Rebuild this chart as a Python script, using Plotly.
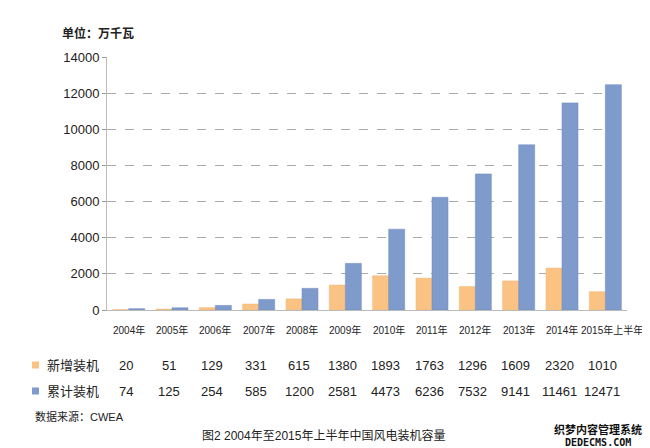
import plotly.graph_objects as go

years = ["2004年", "2005年", "2006年", "2007年", "2008年", "2009年", "2010年",
         "2011年", "2012年", "2013年", "2014年", "2015年上半年"]
new_install = [20, 51, 129, 331, 615, 1380, 1893, 1763, 1296, 1609, 2320, 1010]
cum_install = [74, 125, 254, 585, 1200, 2581, 4473, 6236, 7532, 9141, 11461, 12471]
series_names = ["新增装机", "累计装机"]
y_ticks = [0, 2000, 4000, 6000, 8000, 10000, 12000, 14000]

ORANGE = "#FBC383"
BLUE = "#7F9BCC"
FONT = "Liberation Sans, Noto Sans CJK SC, sans-serif"

fig = go.Figure()
fig.add_trace(go.Bar(x=years, y=new_install, name=series_names[0],
                     marker=dict(color=ORANGE, line=dict(color="#EFB472", width=0.5))))
fig.add_trace(go.Bar(x=years, y=cum_install, name=series_names[1],
                     marker=dict(color=BLUE, line=dict(color="#6F8BBC", width=0.5))))

W, H = 650, 448
L, R, T, B = 99, 31, 49, 146
pw, ph = W - L - R, H - T - B

def px_x(x):
    return (x - L) / pw

def px_y(y):
    return (H - B - y) / ph

annotations = []
# category labels under the axis
last = len(years) - 1
for i, cat in enumerate(years):
    annotations.append(dict(x=cat, xref="x", y=px_y(322), yref="paper",
                            text=cat, showarrow=False,
                            xshift=(40 if i == last else 0),
                            font=dict(size=10, color="#222", family=FONT),
                            xanchor=("right" if i == last else "center"),
                            yanchor="middle"))
rows = [(new_install, 357), (cum_install, 383)]
for vals, ypix in rows:
    for cat, v in zip(years, vals):
        annotations.append(dict(x=cat, xref="x", y=px_y(ypix), yref="paper",
                                text=str(v), showarrow=False, xshift=-3,
                                font=dict(size=13, color="#222", family=FONT),
                                xanchor="center", yanchor="middle"))
for name, ypix in zip(series_names, [357, 383]):
    annotations.append(dict(x=px_x(37), xref="paper", y=px_y(ypix), yref="paper",
                            text=name, showarrow=False,
                            font=dict(size=13, color="#222", family=FONT),
                            xanchor="left", yanchor="middle"))

annotations += [
    dict(x=px_x(52), xref="paper", y=px_y(25), yref="paper", text="<b>单位：万千瓦</b>",
         showarrow=False, xanchor="left", yanchor="middle",
         font=dict(size=12, color="#222", family=FONT)),
    dict(x=px_x(25), xref="paper", y=px_y(408), yref="paper", text="数据来源：CWEA",
         showarrow=False, xanchor="left", yanchor="middle",
         font=dict(size=11, color="#222", family=FONT)),
    dict(x=px_x(315), xref="paper", y=px_y(427), yref="paper",
         text="图2 2004年至2015年上半年中国风电装机容量",
         showarrow=False, xanchor="center", yanchor="middle",
         font=dict(size=12, color="#222", family=FONT)),
    dict(x=px_x(590), xref="paper", y=px_y(421), yref="paper",
         text="<b>织梦内容管理系统</b>",
         showarrow=False, xanchor="center", yanchor="middle",
         font=dict(size=11, color="#111", family=FONT)),
    dict(x=px_x(590), xref="paper", y=px_y(434), yref="paper",
         text="<b>DEDECMS.COM</b>",
         showarrow=False, xanchor="center", yanchor="middle",
         font=dict(size=10, color="#111", family="DejaVu Sans Mono")),
]

shapes = []
for color, ypix in [(ORANGE, 357), (BLUE, 383)]:
    shapes.append(dict(type="rect", xref="paper", yref="paper",
                       x0=px_x(24), x1=px_x(31), y0=px_y(ypix - 3.5), y1=px_y(ypix + 3.5),
                       fillcolor=color, line=dict(width=0)))

fig.update_layout(
    width=W, height=H,
    margin=dict(l=L, r=R, t=T, b=B, autoexpand=False),
    paper_bgcolor="white", plot_bgcolor="white",
    barmode="group", bargap=0.26, bargroupgap=0.0,
    showlegend=False,
    font=dict(family=FONT, color="#222"),
    annotations=annotations, shapes=shapes,
)
fig.update_xaxes(
    range=[-0.5, len(years) - 0.5], autorange=False,
    showticklabels=False,
    showline=True, linecolor="#BBBBBB", linewidth=1,
    showgrid=False, ticks="",
)
fig.update_yaxes(
    range=[0, 14000], autorange=False,
    tickvals=y_ticks, ticktext=[str(t) for t in y_ticks],
    tickfont=dict(size=13, color="#222"),
    showgrid=True, gridcolor="#AAAAAA", griddash="dash", gridwidth=1,
    showline=True, linecolor="#BBBBBB", linewidth=1,
    ticks="outside", ticklen=4, tickcolor="#999",
    zeroline=False,
)

fig.write_html("out.html")
